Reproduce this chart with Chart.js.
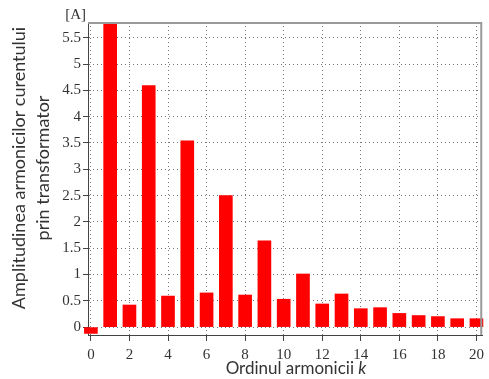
<!DOCTYPE html>
<html>
<head>
<meta charset="utf-8">
<script src="https://cdn.jsdelivr.net/npm/chart.js@4/dist/chart.umd.min.js"></script>
<style>
  html, body { margin: 0; padding: 0; background: #fff; }
  #wrap { width: 489px; height: 379px; }
</style>
</head>
<body>
<div id="wrap"><canvas id="armonici"></canvas></div>
<script>
// ordinul armonicii si amplitudinea curentului [A]
const ordine = [0, 1, 2, 3, 4, 5, 6, 7, 8, 9, 10, 11, 12, 13, 14, 15, 16, 17, 18, 19, 20];
const amplitudini = [-0.12, 5.78, 0.42, 4.59, 0.59, 3.54, 0.65, 2.50, 0.61, 1.64, 0.53,
                     1.01, 0.44, 0.63, 0.35, 0.37, 0.26, 0.22, 0.20, 0.16, 0.16];
const ticksX = [0, 2, 4, 6, 8, 10, 12, 14, 16, 18, 20];
const ticksY = [0, 0.5, 1, 1.5, 2, 2.5, 3, 3.5, 4, 4.5, 5, 5.5];

const serif = '"Liberation Serif", "DejaVu Serif", serif';
const sans = 'Lato, "Open Sans", sans-serif';

// rama, unitatea si titlurile axelor
const decor = {
    id: 'decor',
    afterDraw(chart) {
        const { ctx, chartArea: a } = chart;
        ctx.save();
        ctx.strokeStyle = '#999';
        ctx.lineWidth = 2;
        ctx.setLineDash([]);
        ctx.beginPath();
        ctx.moveTo(a.left, a.top + 1);
        ctx.lineTo(a.right - 1, a.top + 1);
        ctx.lineTo(a.right - 1, a.bottom);
        ctx.stroke();

        ctx.fillStyle = '#333';
        ctx.font = '15px ' + serif;
        ctx.textAlign = 'right';
        ctx.textBaseline = 'middle';
        ctx.fillText('[A]', 86, 15);

        // titlul axei X, cu k cursiv
        ctx.font = '17px ' + sans;
        const t1 = 'Ordinul armonicii ';
        const w1 = ctx.measureText(t1).width;
        ctx.font = 'italic 17px ' + sans;
        const w2 = ctx.measureText('k').width;
        const x = 296 - (w1 + w2) / 2;
        ctx.textAlign = 'left';
        ctx.font = '17px ' + sans;
        ctx.fillText(t1, x, 369);
        ctx.font = 'italic 17px ' + sans;
        ctx.fillText('k', x + w1, 369);

        // titlul axei Y pe doua randuri
        ctx.translate(0, 168);
        ctx.rotate(-Math.PI / 2);
        ctx.textAlign = 'center';
        ctx.font = '18px ' + sans;
        ctx.fillText('Amplitudinea armonicilor curentului', 0, 19);
        ctx.fillText('prin transformator', 0, 43);
        ctx.restore();
    }
};

new Chart(document.getElementById('armonici'), {
    type: 'bar',
    data: {
        datasets: [{
            data: ordine.map((k, i) => ({ x: k, y: amplitudini[i] })),
            backgroundColor: '#ff0000',
            borderWidth: 0,
            barThickness: 13,
            clip: false
        }]
    },
    options: {
        responsive: true,
        maintainAspectRatio: false,
        animation: false,
        layout: { padding: { top: 22, right: 2, left: 0, bottom: 0 } },
        plugins: { legend: { display: false }, tooltip: { enabled: false } },
        scales: {
            x: {
                type: 'linear',
                offset: false,
                min: -0.15,
                max: 20.3,
                afterBuildTicks: s => { s.ticks = ticksX.map(v => ({ value: v })); },
                afterFit: s => { s.height = 44; },
                grid: {
                    offset: false,
                    color: '#777',
                    tickColor: '#444',
                    tickBorderDash: [],
                    tickLength: 6
                },
                border: { color: '#444', dash: [1, 3] },
                ticks: { color: '#333', font: { family: serif, size: 15 }, padding: 5, maxRotation: 0 }
            },
            y: {
                min: -0.15,
                max: 5.8,
                afterBuildTicks: s => { s.ticks = ticksY.map(v => ({ value: v })); },
                afterFit: s => { s.width = 88; },
                grid: {
                    color: '#777',
                    tickColor: '#444',
                    tickBorderDash: [],
                    tickLength: 5
                },
                border: { color: '#444', dash: [1, 3] },
                ticks: {
                    color: '#333',
                    font: { family: serif, size: 15 },
                    padding: 2,
                    callback: v => String(v)
                }
            }
        }
    },
    plugins: [decor]
});
</script>
</body>
</html>
